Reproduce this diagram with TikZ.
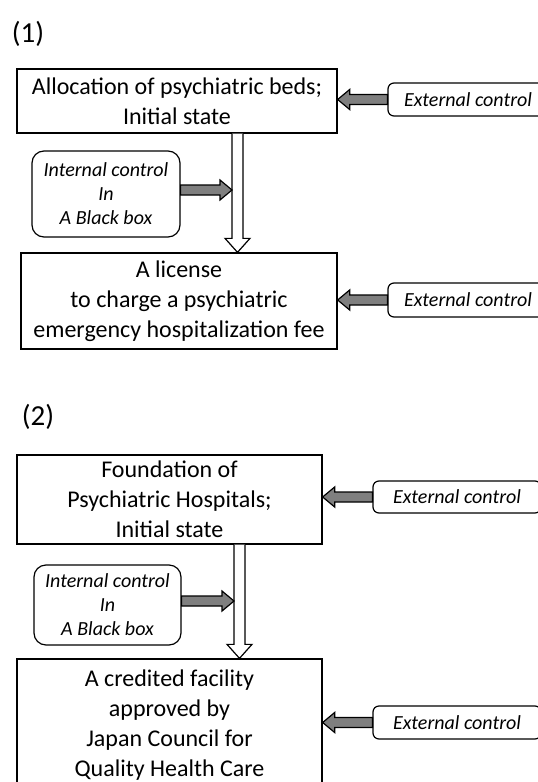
\documentclass[tikz,border=0pt]{standalone}
\usepackage{fontspec}
\setmainfont{Carlito}
\usetikzlibrary{calc}
\definecolor{arrowgray}{HTML}{7F7F7F}
\newcommand\hgarrow[3]{%
  \draw[garrow] ($(#1)+(0,5)$) -- ($(#2)+(#3*12,5)$) -- ($(#2)+(#3*12,10)$) -- (#2)
    -- ($(#2)+(#3*12,-10)$) -- ($(#2)+(#3*12,-5)$) -- ($(#1)+(0,-5)$) -- cycle;}
\newcommand\vharrow[2]{%
  \draw[hollow] ($(#1)+(-5.5,0)$) -- ($(#2)+(-5.5,-14)$) -- ($(#2)+(-12.5,-14)$) -- (#2)
    -- ($(#2)+(12.5,-14)$) -- ($(#2)+(5.5,-14)$) -- ($(#1)+(5.5,0)$);}
\begin{document}
\begin{tikzpicture}[x=1pt,y=-1pt,
  mainbox/.style={draw, line width=1.3pt, fill=white, align=center, inner sep=0pt,
    font=\fontsize{24}{30}\selectfont},
  ctrl/.style={draw, line width=1.2pt, rounded corners=6pt, fill=white, align=center, inner sep=0pt,
    font=\fontsize{20}{24}\selectfont\itshape},
  inbox/.style={draw, line width=1.2pt, rounded corners=12pt, fill=white, align=center, inner sep=0pt,
    font=\fontsize{20}{24}\selectfont\itshape},
  lab/.style={inner sep=0pt, font=\fontsize{29}{34}\selectfont},
  garrow/.style={draw=black, fill=arrowgray, line width=1.2pt, line join=miter},
  hollow/.style={draw=black, fill=white, line width=1.2pt, line join=miter}]
\useasboundingbox (0,0) rectangle (538,782);
\clip (0,0) rectangle (538,782);
% panel 1
\node[lab] (lab1) at (28,34) {(1)};
\node[mainbox, minimum width=320pt, minimum height=64pt] (a1) at (177,101)
  {Allocation of psychiatric beds;\\Initial state};
\node[ctrl, minimum width=160pt, minimum height=33pt] (ext1) at (468,99.5) {External control};
\node[inbox, minimum width=148pt, minimum height=86pt] (i1) at (106,194)
  {Internal control\\In\\A Black box};
\node[mainbox, minimum width=316pt, minimum height=96pt] (a2) at (179,301)
  {A license\\to charge a psychiatric\\emergency hospitalization fee};
\node[ctrl, minimum width=160pt, minimum height=34pt] (ext2) at (468,300) {External control};
% panel 2
\node[lab] (lab2) at (38,417) {(2)};
\node[mainbox, minimum width=305pt, minimum height=89pt] (b1) at (169.5,499.5)
  {Foundation of\\Psychiatric Hospitals;\\Initial state};
\node[ctrl, minimum width=168pt, minimum height=32pt] (ext3) at (457,497) {External control};
\node[inbox, minimum width=147pt, minimum height=80pt] (i2) at (107.5,605)
  {Internal control\\In\\A Black box};
\node[mainbox, minimum width=305pt, minimum height=132pt] (b2) at (169.5,725)
  {A credited facility\\approved by\\Japan Council for\\Quality Health Care};
\node[ctrl, minimum width=168pt, minimum height=33pt] (ext4) at (457,722.5) {External control};
% coordinates
\coordinate (t1) at (a1.east |- ext1.west);
\coordinate (t2) at (a2.east |- ext2.west);
\coordinate (t3) at (b1.east |- ext3.west);
\coordinate (t4) at (b2.east |- ext4.west);
\coordinate (v1s) at ($(a1.south)+(60.5,0)$);
\coordinate (v1t) at (v1s |- a2.north);
\coordinate (v2s) at ($(b1.south)+(70,0)$);
\coordinate (v2t) at (v2s |- b2.north);
\coordinate (g1s) at ($(i1.east)+(0,-4)$);
\coordinate (g1t) at ($(v1s |- g1s)+(-5.5,0)$);
\coordinate (g2s) at ($(i2.east)+(0,-4)$);
\coordinate (g2t) at ($(v2s |- g2s)+(-5.5,0)$);
% arrows
\hgarrow{ext1.west}{t1}{1}
\hgarrow{ext2.west}{t2}{1}
\hgarrow{ext3.west}{t3}{1}
\hgarrow{ext4.west}{t4}{1}
\vharrow{v1s}{v1t}
\vharrow{v2s}{v2t}
\hgarrow{g1s}{g1t}{-1}
\hgarrow{g2s}{g2t}{-1}
\end{tikzpicture}
\end{document}
